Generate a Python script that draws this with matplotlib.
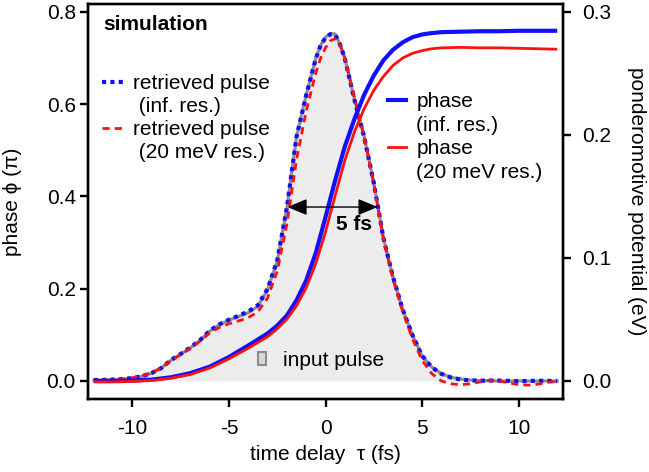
import numpy as np
import matplotlib
matplotlib.use("Agg")
import matplotlib.pyplot as plt
from matplotlib.lines import Line2D
from matplotlib.patches import Patch

plt.rcParams['font.family'] = ['Liberation Sans', 'DejaVu Sans']
plt.rcParams['font.size'] = 15
plt.rcParams['axes.unicode_minus'] = False

# ---- pulse data (ponderomotive potential, eV) ----
t_pulse = [-12, -11.5, -11, -10.5, -10, -9.5, -9, -8.5, -8, -7.5, -7, -6.5, -6, -5.5,
           -5, -4.5, -4, -3.5, -3, -2.5, -2, -1.5, -1, -0.5, -0.25, 0, 0.25, 0.5,
           0.75, 1, 1.5, 2, 2.5, 3, 3.5, 4, 4.5, 5, 5.5, 6, 6.5, 7, 7.5, 8,
           8.5, 9, 9.5, 10, 10.5, 11, 11.5, 12]

input_pulse = [0.0008, 0.0008, 0.0011, 0.0015, 0.0023, 0.0038, 0.0064, 0.0105, 0.0169,
               0.0218, 0.0270, 0.0330, 0.0405, 0.0458, 0.0495, 0.0525, 0.0555, 0.0608,
               0.0743, 0.0975, 0.1406, 0.1988, 0.2325, 0.2625, 0.2730, 0.2794, 0.2824,
               0.2820, 0.2738, 0.2625, 0.2288, 0.1988, 0.1613, 0.1163, 0.0844, 0.0581,
               0.0375, 0.0206, 0.0113, 0.0060, 0.0030, 0.0015, 0.0008, 0.0004, 0.0002,
               0.0, 0.0, 0.0, 0.0, 0.0, 0.0, 0.0]

retrieved_inf = [0.0008, 0.0009, 0.0012, 0.0016, 0.0024, 0.0039, 0.0065, 0.0106, 0.0170,
                 0.0220, 0.0272, 0.0332, 0.0408, 0.0460, 0.0498, 0.0530, 0.0565, 0.0615,
                 0.0748, 0.0978, 0.1408, 0.1985, 0.2322, 0.2622, 0.2728, 0.2790, 0.2818,
                 0.2815, 0.2735, 0.2622, 0.2285, 0.1985, 0.1610, 0.1160, 0.0842, 0.0580,
                 0.0374, 0.0205, 0.0112, 0.0058, 0.0028, 0.0012, 0.0004, 0.0002, 0.0004,
                 0.0003, 0.0001, -0.0002, 0.0, 0.0002, 0.0001, 0.0]

retrieved_20 = [0.0, 0.0004, 0.0008, 0.0015, 0.0026, 0.0041, 0.0068, 0.0109, 0.0165,
                0.0214, 0.0263, 0.0323, 0.0390, 0.0435, 0.0465, 0.0488, 0.0514, 0.0563,
                0.0675, 0.0893, 0.1275, 0.1800, 0.2194, 0.2505, 0.2625, 0.2708, 0.2764,
                0.2783, 0.2730, 0.2625, 0.2306, 0.1988, 0.1605, 0.1155, 0.0825, 0.0563,
                0.0345, 0.0169, 0.0060, 0.0, -0.0023, -0.0030, -0.0023, -0.0008, 0.0004,
                0.0, -0.0015, -0.0030, -0.0034, -0.0026, -0.0011, -0.0004]

# ---- phase data (units of pi) ----
t_phase = [-12, -11, -10, -9, -8, -7, -6, -5, -4, -3, -2.5, -2, -1.5, -1, -0.5, 0,
           0.5, 1, 1.5, 2, 2.5, 3, 3.5, 4, 4.5, 5, 5.5, 6, 7, 8, 9, 10, 11, 12]

phase_inf = [0.0, 0.0, 0.001, 0.003, 0.008, 0.017, 0.031, 0.052, 0.077, 0.103, 0.120,
             0.142, 0.175, 0.218, 0.278, 0.355, 0.435, 0.508, 0.568, 0.620, 0.662,
             0.695, 0.718, 0.734, 0.745, 0.751, 0.754, 0.756, 0.757, 0.758, 0.758,
             0.759, 0.759, 0.759]

phase_20 = [-0.002, -0.002, -0.001, 0.001, 0.006, 0.014, 0.028, 0.048, 0.071, 0.096,
            0.113, 0.134, 0.163, 0.202, 0.255, 0.323, 0.402, 0.478, 0.540, 0.590,
            0.630, 0.660, 0.684, 0.700, 0.710, 0.716, 0.720, 0.722, 0.723, 0.722,
            0.722, 0.721, 0.720, 0.719]

BLUE = '#1010ff'
RED = '#ff1010'
GRAY = '#8c8c8c'
FILL = '#ececec'

fig = plt.figure(figsize=(6.49, 4.72), dpi=100)
ax = fig.add_axes([0.1356, 0.1547, 0.7319, 0.8368])
ax2 = ax.twinx()
ax.set_zorder(ax2.get_zorder() + 1)
ax.patch.set_visible(False)

# pulses on the right axis
ax2.fill_between(t_pulse, 0, input_pulse, color=FILL, lw=0, zorder=1)
ax2.plot(t_pulse, input_pulse, color=GRAY, lw=2.2, zorder=2)
ax2.plot(t_pulse, retrieved_inf, color=BLUE, lw=3, linestyle=(0, (1, 1)), zorder=3)
ax2.plot(t_pulse, retrieved_20, color=RED, lw=2, linestyle=(0, (2.6, 1.8)), zorder=4)

# phases on the left axis
ax.plot(t_phase, phase_inf, color=BLUE, lw=3, solid_capstyle='butt')
ax.plot(t_phase, phase_20, color=RED, lw=2, solid_capstyle='butt')

ax.set_xlim(-12.3, 12.3)
ax.set_ylim(-0.039, 0.817)
ax2.set_ylim(-0.039 * 0.375, 0.817 * 0.375)

ax.set_xticks([-10, -5, 0, 5, 10])
ax.set_yticks([0.0, 0.2, 0.4, 0.6, 0.8])
ax.set_yticklabels(['0.0', '0.2', '0.4', '0.6', '0.8'])
ax2.set_yticks([0.0, 0.1, 0.2, 0.3])
ax2.set_yticklabels(['0.0', '0.1', '0.2', '0.3'])

for a in (ax, ax2):
    for s in a.spines.values():
        s.set_linewidth(1.7)
ax.tick_params(axis='y', direction='out', length=5.8, width=1.7, pad=3)
ax.tick_params(axis='x', direction='out', length=5.8, width=1.7, pad=8.5)
ax2.tick_params(axis='y', direction='out', length=5.8, width=1.7, pad=8)

ax.set_xlabel('time delay  τ (fs)', labelpad=5)
ax.set_ylabel('phase ϕ (π)', labelpad=18)
ax2.set_ylabel('ponderomotive potential (eV)', rotation=270, labelpad=25)

# FWHM arrow
ax.annotate('', xy=(-1.97, 0.377), xytext=(2.7, 0.377),
            arrowprops=dict(arrowstyle='<|-|>,head_length=0.6,head_width=0.25',
                            color='black', lw=1, mutation_scale=20,
                            shrinkA=0, shrinkB=0))
ax.text(1.5, 0.34, '5 fs', fontweight='bold', ha='center', va='center')
ax.text(0.032, 0.949, 'simulation', transform=ax.transAxes, fontweight='bold',
        ha='left', va='center')

blank = Line2D([], [], linestyle='none')
h_ret_inf = Line2D([], [], color=BLUE, lw=3, linestyle=(0, (1, 1)))
h_ret_20 = Line2D([], [], color=RED, lw=2, linestyle=(0, (2.6, 1.8)))
leg1 = ax.legend([h_ret_inf, blank, h_ret_20, blank],
                 ['retrieved pulse', ' (inf. res.)', 'retrieved pulse', ' (20 meV res.)'],
                 loc='upper left', bbox_to_anchor=(0.0295, 0.823), frameon=False,
                 handlelength=1.1, handletextpad=0.4, labelspacing=0.2,
                 borderpad=0, borderaxespad=0)
ax.add_artist(leg1)

h_ph_inf = Line2D([], [], color=BLUE, lw=3)
h_ph_20 = Line2D([], [], color=RED, lw=2)
leg2 = ax.legend([h_ph_inf, blank, h_ph_20, blank],
                 ['phase', '(inf. res.)', 'phase', '(20 meV res.)'],
                 loc='upper left', bbox_to_anchor=(0.632, 0.777), frameon=False,
                 handlelength=0.85, handletextpad=0.5, labelspacing=0.22,
                 borderpad=0, borderaxespad=0)
ax.add_artist(leg2)

h_in = Patch(facecolor='#d8d8d8', edgecolor=GRAY, lw=1.5)
ax.legend([h_in], ['input pulse'], loc='upper left', bbox_to_anchor=(0.358, 0.121),
          frameon=False, handlelength=0.4, handleheight=0.6, handletextpad=0.8,
          borderpad=0, borderaxespad=0)

fig.savefig('out.png', dpi=100)
